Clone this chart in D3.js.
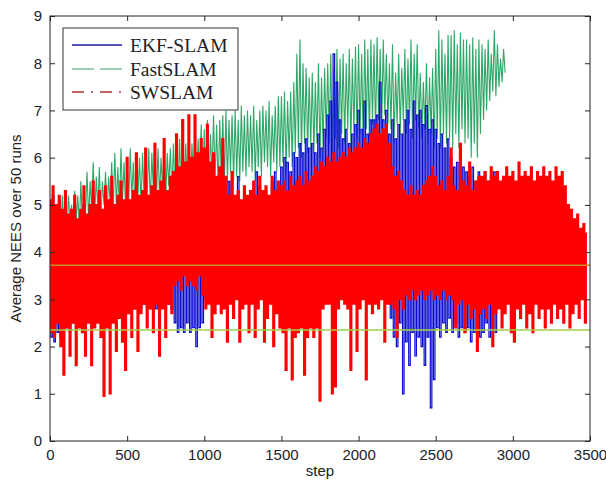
<!DOCTYPE html>
<html><head><meta charset="utf-8">
<script src="https://cdn.jsdelivr.net/npm/d3@7"></script>
<style>body{margin:0;background:#fff}</style>
</head><body><svg id="c" width="606" height="485"></svg>
<script>
const stepInterval = 10;
// SWSLAM (red, dash-dot), sampled every 10 steps from 0
const swSlam = [
5.1,2.3,5.4,2.2,5.0,2.5,5.2,2.0,4.9,1.4,
5.3,2.4,4.8,1.8,4.9,2.5,5.2,1.6,4.7,2.4,
4.9,2.3,5.4,1.8,4.8,2.5,5.0,1.6,5.5,2.4,
5.0,2.5,5.3,2.2,4.9,0.95,5.4,2.4,5.1,1.0,
5.6,2.5,5.0,1.9,5.2,2.6,5.5,2.1,5.1,1.5,
6.0,2.7,5.1,2.2,5.3,2.8,6.1,1.9,5.2,2.7,
5.3,2.9,6.2,2.4,5.2,2.8,5.4,2.3,6.3,2.9,
5.3,1.8,5.5,2.8,6.4,2.2,5.3,2.9,5.6,2.7,
5.7,3.3,6.5,3.4,5.8,3.2,6.8,3.5,5.9,3.3,
6.9,3.4,6.0,3.3,6.9,3.2,6.1,3.5,6.4,3.1,
6.2,2.8,6.7,2.9,5.9,2.2,6.1,2.7,5.6,2.9,
5.8,2.7,6.4,2.8,5.6,2.1,5.2,2.9,5.7,2.6,
5.2,3.0,5.3,2.1,5.1,2.8,5.4,2.9,5.2,2.3,
5.3,2.9,5.5,2.2,5.2,2.8,5.6,3.0,5.3,2.1,
5.4,2.6,5.2,2.9,5.6,2.0,5.3,2.7,5.5,2.4,
5.4,2.3,5.5,1.5,5.3,2.4,5.6,1.3,5.4,2.2,
5.5,2.3,5.6,2.4,5.4,1.4,5.7,2.2,5.5,2.4,
5.6,2.2,5.8,2.4,5.7,0.85,5.9,2.8,5.8,2.9,
6.0,2.9,5.9,1.0,6.1,1.15,5.9,2.8,6.0,3.0,
6.1,2.9,6.0,2.8,6.2,1.5,6.1,2.9,6.2,1.9,
6.3,2.8,6.2,3.0,6.4,1.3,6.3,2.9,6.5,2.7,
6.6,2.9,6.7,2.8,6.5,3.0,6.6,2.1,6.7,2.9,
6.3,2.9,5.8,2.8,5.6,2.2,5.7,3.0,5.5,2.8,
5.3,3.1,5.2,3.0,5.4,3.2,5.2,3.0,5.3,3.1,
5.2,3.2,5.4,3.0,5.5,3.1,5.6,3.2,5.8,3.0,
5.6,3.1,5.4,3.0,5.5,3.2,5.3,3.0,5.6,3.1,
6.2,3.0,5.4,2.4,5.3,2.9,6.3,3.0,5.5,2.3,
5.4,2.9,5.9,2.6,5.3,2.8,5.5,1.9,5.6,2.7,
5.6,2.8,5.7,2.6,5.5,2.9,5.8,2.0,5.6,2.7,
5.7,2.8,5.5,2.4,5.6,2.7,5.8,2.9,5.6,2.3,
5.7,2.1,5.5,2.8,5.9,2.6,5.6,2.9,5.7,2.4,
5.6,2.7,5.8,2.3,5.5,2.9,5.7,2.6,5.6,2.8,
5.8,2.4,5.6,2.8,5.7,2.5,5.5,2.9,5.8,2.6,
5.6,2.8,5.7,2.5,5.4,2.9,5.0,2.4,4.9,2.7,
4.7,2.9,4.8,2.6,4.5,3.0,4.6,2.5,4.4
];
// EKF-SLAM (blue, solid)
const ekfSlam = [
5.0,2.2,5.2,2.1,4.9,2.3,5.1,2.2,4.8,2.4,
5.0,2.4,4.7,2.3,4.9,2.5,5.0,2.4,4.6,2.5,
4.8,2.5,5.0,2.4,4.7,2.6,4.9,2.5,5.1,2.6,
4.9,2.6,5.0,2.5,4.8,2.7,5.1,2.6,4.9,2.7,
5.0,2.7,4.9,2.6,5.1,2.8,5.2,2.7,5.0,2.8,
5.1,2.8,5.0,2.9,5.2,2.8,5.3,2.9,5.1,2.8,
5.2,2.9,5.3,2.8,5.1,3.0,5.2,2.9,5.3,2.8,
5.3,2.9,5.2,3.0,5.4,2.8,5.3,2.9,5.5,2.8,
5.5,2.5,5.6,2.3,5.4,2.4,5.7,2.3,5.5,2.5,
5.8,2.3,5.6,2.4,5.9,2.0,5.7,2.4,5.8,2.5,
5.9,3.0,6.3,3.1,5.7,2.9,5.9,3.0,5.5,3.1,
5.6,3.1,6.0,2.9,5.5,3.0,5.5,3.1,5.5,3.0,
5.1,3.1,5.6,3.0,5.0,3.0,5.2,3.1,5.1,3.0,
5.2,3.1,5.3,3.0,5.7,3.0,5.4,3.2,5.2,3.0,
5.3,3.0,5.1,3.1,5.5,3.0,5.7,3.0,5.4,3.1,
5.8,3.0,6.0,3.1,5.9,2.9,5.7,3.0,6.1,3.1,
6.0,3.1,6.3,3.0,6.1,3.1,6.4,3.0,6.2,3.1,
6.3,3.0,6.1,3.1,6.5,3.0,6.2,3.1,6.6,3.0,
6.9,3.1,7.2,3.0,8.2,3.1,7.6,3.0,6.8,3.1,
6.4,3.0,6.6,3.1,6.3,3.0,6.5,3.1,6.7,3.0,
7.0,3.1,6.6,3.0,7.2,3.1,6.5,3.0,6.8,3.1,
6.8,3.0,6.9,3.1,7.6,3.0,6.8,3.1,7.0,3.0,
6.5,2.6,6.8,2.2,6.4,2.0,6.7,2.5,6.5,1.0,
6.8,2.1,7.0,1.6,6.6,2.3,7.2,1.8,6.9,2.2,
7.0,2.0,6.7,1.6,7.1,2.2,6.6,0.7,6.8,1.3,
6.6,2.4,6.3,2.2,6.5,2.5,6.2,2.3,6.4,2.6,
6.0,2.3,5.8,2.5,5.9,2.2,5.7,2.4,5.8,2.3,
5.7,2.4,5.6,2.1,5.8,2.3,5.5,2.5,5.7,2.2,
5.6,2.3,5.7,2.5,5.5,2.2,5.6,2.4,5.7,2.3,
5.5
];
// FastSLAM (green, dashed)
const fastSlam = [
4.9,4.3,5.1,4.1,4.8,4.4,5.0,4.2,5.2,4.5,
5.1,4.4,5.2,4.6,5.0,4.3,5.3,4.7,5.2,4.5,
5.5,4.6,5.4,4.8,5.7,4.7,5.5,4.9,5.9,4.8,
5.6,4.9,5.8,4.7,5.5,5.0,5.7,4.8,5.6,5.0,
5.9,4.9,6.1,5.0,5.8,4.8,6.2,5.1,5.9,4.9,
6.0,5.0,6.2,5.1,5.9,4.9,6.1,5.2,6.0,5.0,
6.1,5.1,6.0,5.2,6.2,5.0,6.1,5.3,6.3,5.1,
6.2,5.2,6.0,5.3,6.3,5.1,6.1,5.4,6.2,5.2,
6.3,5.3,6.1,5.4,6.4,5.2,6.2,5.5,6.3,5.3,
6.5,5.4,6.3,5.5,6.6,5.3,6.4,5.6,6.7,5.4,
6.6,5.5,6.8,5.4,6.5,5.6,6.9,5.5,6.7,5.3,
6.8,5.6,6.9,5.4,7.0,5.5,6.8,5.7,6.9,5.5,
7.0,5.6,6.8,5.5,7.1,5.7,6.9,5.6,7.0,5.8,
6.9,5.7,7.1,5.5,6.8,5.8,7.0,5.6,7.1,5.9,
7.0,5.8,7.2,5.6,6.9,5.9,7.1,5.7,7.3,5.8,
7.3,5.9,7.4,5.7,7.2,6.0,7.4,5.8,7.6,6.1,
8.2,6.2,8.5,6.0,8.0,6.3,7.9,6.1,7.7,6.2,
7.8,6.1,7.6,6.3,8.0,6.0,7.7,6.2,7.9,6.4,
8.0,6.3,8.2,6.1,7.9,6.4,8.3,6.2,8.1,6.5,
8.2,6.3,8.0,6.6,8.3,6.2,8.1,6.5,8.35,6.4,
8.4,6.5,8.2,6.3,8.5,6.6,8.3,6.4,8.5,6.7,
8.4,6.5,8.55,6.8,8.3,6.6,8.5,6.9,8.2,6.7,
8.0,6.6,8.4,6.3,7.8,6.7,8.2,6.5,7.9,6.8,
8.3,6.5,8.1,6.7,8.5,6.4,8.2,6.8,8.4,6.6,
7.8,6.4,7.6,6.6,8.0,6.3,7.7,6.5,7.9,6.2,
8.3,6.4,8.7,6.2,8.5,6.5,8.2,6.3,8.6,6.4,
8.6,6.2,8.7,6.5,8.4,6.2,8.65,6.6,8.5,6.3,
8.5,6.4,8.4,6.0,8.55,6.3,8.3,6.0,8.5,6.5,
8.4,6.8,8.3,7.0,8.5,7.2,8.2,7.4,8.7,7.3,
8.4,7.5,8.1,7.6,8.3,7.8
];
const bounds = [2.35, 3.72];
const xTicks = [0,500,1000,1500,2000,2500,3000,3500];
const yTicks = [0,1,2,3,4,5,6,7,8,9];
const seriesNames = ["EKF-SLAM","FastSLAM","SWSLAM"];

const L = 50, R = 590, T = 16, B = 441;
const svg = d3.select("#c");
const x = d3.scaleLinear().domain([0,3500]).range([L,R]);
const y = d3.scaleLinear().domain([0,9]).range([B,T]);

svg.append("defs").append("clipPath").attr("id","clip")
  .append("rect").attr("x",L).attr("y",T).attr("width",R-L).attr("height",B-T);

const line = d3.line().x((d,i)=>x(i*stepInterval)).y(d=>y(d));
const stepLine = d3.line().x((d,i)=>x(i*stepInterval)).y(d=>y(d)).curve(d3.curveStep);
const g = svg.append("g").attr("clip-path","url(#clip)");

g.append("path").datum(fastSlam).attr("d",line)
  .attr("fill","none").attr("stroke","#2ea866").attr("stroke-width",1.1);
g.append("path").datum(ekfSlam).attr("d",stepLine)
  .attr("fill","none").attr("stroke","#0a0ad0").attr("stroke-width",1.2);
g.append("path").datum(swSlam).attr("d",stepLine)
  .attr("fill","none").attr("stroke","#ff0000").attr("stroke-width",1.6);

const bColors = ["#9fd04a","#c8921e"];
bounds.forEach((b,i)=>{
  g.append("line").attr("x1",L).attr("x2",R).attr("y1",y(b)).attr("y2",y(b))
   .attr("stroke",bColors[i]).attr("stroke-width",1.5);
});

// axes
const font = "Liberation Sans, Arial, sans-serif";
const ax = [
  {a:d3.axisBottom(x).tickValues(xTicks).tickFormat(d3.format("d")), t:`translate(0,${B})`, lab:true},
  {a:d3.axisTop(x).tickValues(xTicks).tickFormat(""), t:`translate(0,${T})`},
  {a:d3.axisLeft(y).tickValues(yTicks).tickFormat(d3.format("d")), t:`translate(${L},0)`, lab:true},
  {a:d3.axisRight(y).tickValues(yTicks).tickFormat(""), t:`translate(${R},0)`}
];
ax.forEach(o=>{
  const gg = svg.append("g").attr("transform",o.t)
    .call(o.a.tickSizeInner(-5).tickSizeOuter(0).tickPadding(o.lab?8:0));
  gg.select(".domain").remove();
  gg.selectAll("line").attr("stroke","#222");
  gg.selectAll("text").attr("font-family",font).attr("font-size",15).attr("fill","#222");
});
svg.append("rect").attr("x",L).attr("y",T).attr("width",R-L).attr("height",B-T)
  .attr("fill","none").attr("stroke","#222").attr("stroke-width",1);

svg.append("text").attr("x",x(1750)).attr("y",476).attr("text-anchor","middle")
  .attr("font-family",font).attr("font-size",15).attr("fill","#222").text("step");
svg.append("text").attr("transform",`translate(21,${(T+B)/2}) rotate(-90)`)
  .attr("text-anchor","middle").attr("font-family",font).attr("font-size",15)
  .attr("fill","#222").text("Average NEES over 50 runs");

// legend
const lg = svg.append("g");
lg.append("rect").attr("x",63).attr("y",28).attr("width",175).attr("height",82)
  .attr("fill","#fff").attr("stroke","#333").attr("stroke-width",1);
const lStyles = [
  {c:"#1c1ca0", d:null},
  {c:"#7cc49a", d:"22,6"},
  {c:"#b03030", d:"12,7,2,7"}
];
const lY = [45,69,92];
seriesNames.forEach((n,i)=>{
  lg.append("line").attr("x1",72).attr("x2",122).attr("y1",lY[i]).attr("y2",lY[i])
    .attr("stroke",lStyles[i].c).attr("stroke-width",1.5)
    .attr("stroke-dasharray",lStyles[i].d);
  lg.append("text").attr("x",130).attr("y",lY[i]+6.5)
    .attr("font-family","Liberation Serif, Times New Roman, serif").attr("font-size",19.5)
    .attr("fill","#222").text(n);
});
</script></body></html>
